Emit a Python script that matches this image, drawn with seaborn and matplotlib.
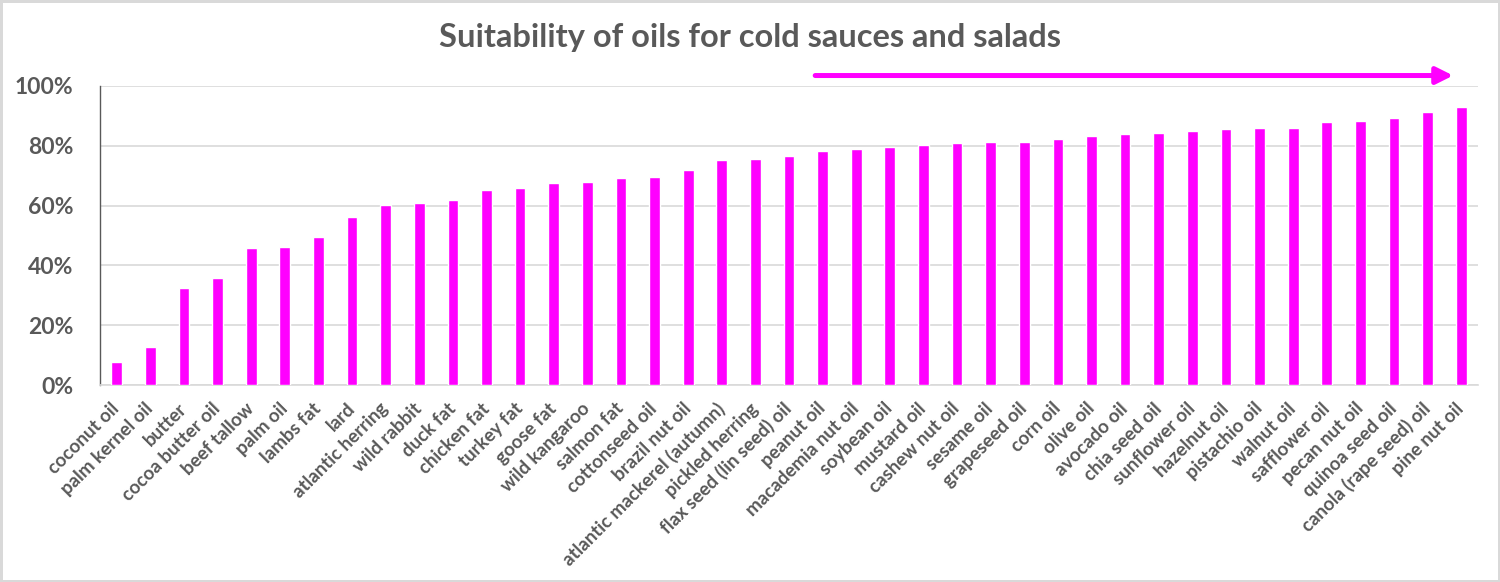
import matplotlib
matplotlib.use("Agg")
import matplotlib.pyplot as plt
import seaborn as sns

oils = [
    "coconut oil", "palm kernel oil", "butter", "cocoa butter oil", "beef tallow",
    "palm oil", "lambs fat", "lard", "atlantic herring", "wild rabbit",
    "duck fat", "chicken fat", "turkey fat", "goose fat", "wild kangaroo",
    "salmon fat", "cottonseed oil", "brazil nut oil", "atlantic mackerel (autumn)",
    "pickled herring", "flax seed (lin seed) oil", "peanut oil", "macademia nut oil",
    "soybean oil", "mustard oil", "cashew nut oil", "sesame oil", "grapeseed oil",
    "corn oil", "olive oil", "avocado oil", "chia seed oil", "sunflower oil",
    "hazelnut oil", "pistachio oil", "walnut oil", "safflower oil", "pecan nut oil",
    "quinoa seed oil", "canola (rape seed) oil", "pine nut oil",
]
suitability = [
    7.8, 12.8, 32.3, 35.8, 45.7,
    46.0, 49.5, 56.1, 60.1, 61.0,
    62.0, 65.3, 66.0, 67.4, 67.8,
    69.1, 69.5, 71.9, 75.4,
    75.6, 76.6, 78.1, 78.8,
    79.7, 80.3, 80.9, 81.3, 81.3,
    82.2, 83.4, 84.1, 84.4, 84.9,
    85.5, 85.8, 85.8, 87.8, 88.4,
    89.3, 91.2, 93.0,
]
y_ticks = [0, 20, 40, 60, 80, 100]
y_tick_labels = ["0%", "20%", "40%", "60%", "80%", "100%"]
title = "Suitability of oils for cold sauces and salads"

sns.set_theme(style="white")
plt.rcParams["font.family"] = ["Lato", "DejaVu Sans"]

W, H = 1500, 582
fig = plt.figure(figsize=(W / 100, H / 100), dpi=100)
fig.patch.set_facecolor("white")
fig.patch.set_edgecolor("#d9d9d9")
fig.patch.set_linewidth(2.5)

ax = fig.add_axes([100 / W, 1 - 385 / H, 1378 / W, 299 / H])
ax.set_facecolor("white")

sns.barplot(x=oils, y=suitability, color="#FF00FF", saturation=1, width=0.32,
            ax=ax, zorder=3)

ax.set_xlim(-0.5, len(oils) - 0.5)
ax.set_ylim(0, 100)
ax.set_yticks(y_ticks)
ax.set_yticklabels(y_tick_labels)
ax.set_xlabel("")
ax.set_ylabel("")

ax.grid(axis="y", color="#d9d9d9", linewidth=1.2, zorder=0)
ax.grid(axis="x", visible=False)
ax.set_axisbelow(True)
for s in ["top", "right"]:
    ax.spines[s].set_visible(False)
ax.spines["left"].set_color("#595959")
ax.spines["left"].set_linewidth(1.0)
ax.spines["bottom"].set_color("#d9d9d9")
ax.spines["bottom"].set_linewidth(1.2)

ax.tick_params(axis="y", length=0, pad=19, labelsize=16.5, labelcolor="#595959")
ax.tick_params(axis="x", length=0, pad=15, labelsize=13.5, labelcolor="#595959")
for lbl in ax.get_yticklabels():
    lbl.set_fontweight("bold")
for lbl in ax.get_xticklabels():
    lbl.set_rotation(45)
    lbl.set_ha("right")
    lbl.set_va("center")
    lbl.set_rotation_mode("anchor")
    lbl.set_fontweight("bold")

fig.text(0.5, 1 - 47 / H, title, ha="center", va="baseline", fontsize=23.5,
         fontweight="bold", color="#595959")

ax.annotate("", xy=(0.982, 1.035), xytext=(0.519, 1.035),
            xycoords="axes fraction", textcoords="axes fraction",
            annotation_clip=False,
            arrowprops=dict(arrowstyle="-|>,head_length=1.0,head_width=0.5",
                            mutation_scale=10, lw=3.6, color="#FF00FF",
                            shrinkA=0, shrinkB=0))

fig.savefig("out.png", dpi=100, facecolor=fig.get_facecolor(),
            edgecolor=fig.get_edgecolor())
